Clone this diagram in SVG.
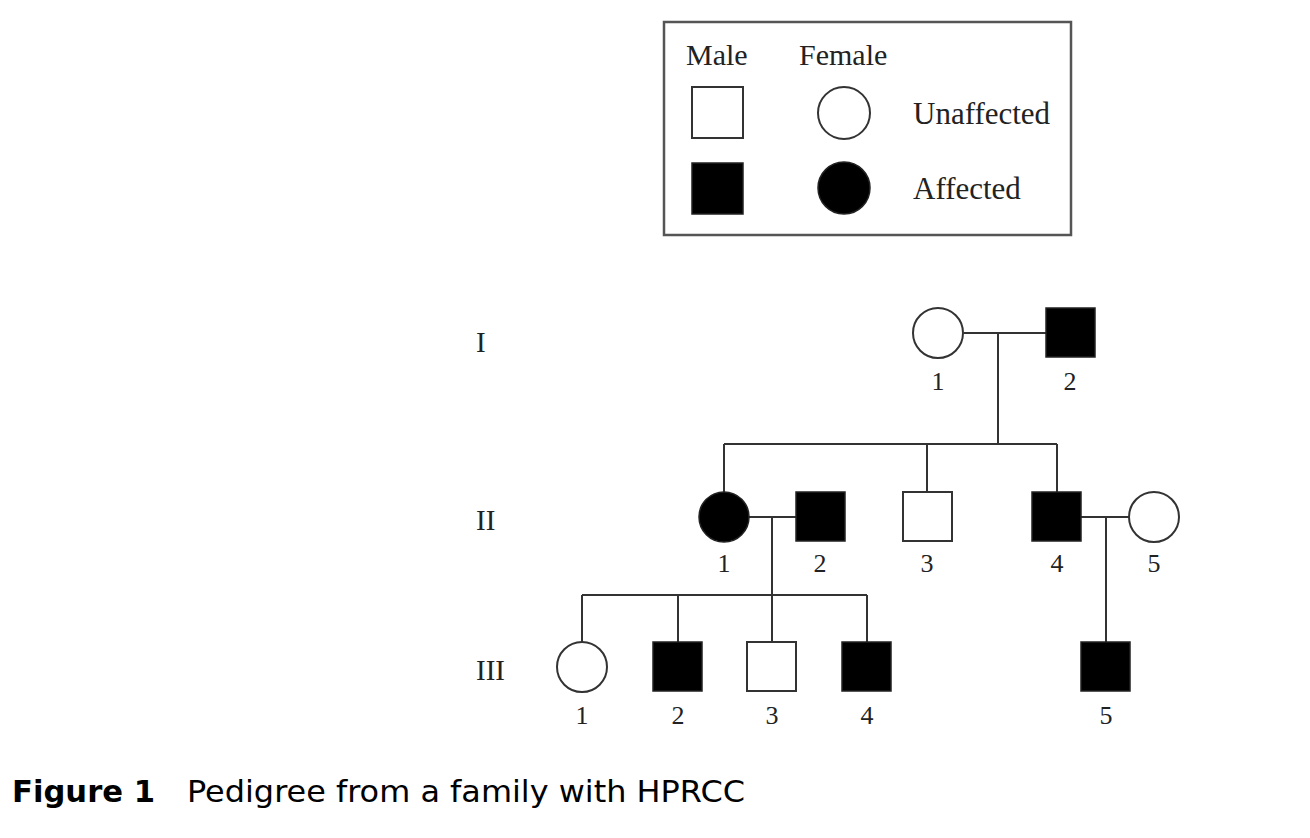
<svg xmlns="http://www.w3.org/2000/svg" width="1310" height="838" viewBox="0 0 1310 838">
<style>
.t{font-family:"Liberation Serif","Times New Roman",serif;font-size:29px;fill:#222}
.n{font-family:"Liberation Serif","Times New Roman",serif;font-size:26px;fill:#222;text-anchor:middle}
.u{fill:#fff;stroke:#333;stroke-width:2}
.a{fill:#000;stroke:#222;stroke-width:1.5}
.ln{stroke:#333;stroke-width:2;fill:none}
.cap{font-family:"DejaVu Sans",Verdana,sans-serif;font-size:30px;fill:#000}
</style>
<rect width="1310" height="838" fill="#fff"/>
<g id="legend">
<rect x="664" y="22" width="407" height="213" fill="#fff" stroke="#555" stroke-width="2.5"/>
<text class="t" x="686" y="65" style="font-size:30px">Male</text>
<text class="t" x="799" y="65" style="font-size:30px">Female</text>
<rect class="u" x="692" y="87" width="51" height="51"/>
<circle class="u" cx="844" cy="113" r="26"/>
<text class="t" x="913" y="124" style="font-size:31px">Unaffected</text>
<rect class="a" x="692" y="163" width="51" height="51"/>
<circle class="a" cx="844" cy="188" r="26"/>
<text class="t" x="913" y="199" style="font-size:31px">Affected</text>
</g>
<g id="gen-labels">
<text class="t" x="476" y="352">I</text>
<text class="t" x="476" y="530">II</text>
<text class="t" x="476" y="680">III</text>
</g>
<g id="connectors">
<path class="ln" d="M964 333H1046M998 333V444M724 444H1057M724 444V493M927 444V492M1057 444V492"/>
<path class="ln" d="M749 517H796M772 517V595M582 595H867M582 595V642M678 595V642M772 595V642M867 595V642"/>
<path class="ln" d="M1081 517H1129M1106 517V642"/>
</g>
<g id="I-1"><ellipse class="u" cx="938" cy="333" rx="25" ry="25"/><text class="n" x="938" y="390">1</text></g>
<g id="I-2"><rect class="a" x="1046" y="308" width="49" height="49"/><text class="n" x="1070" y="390">2</text></g>
<g id="II-1"><ellipse class="a" cx="724" cy="517" rx="25" ry="25"/><text class="n" x="724" y="572">1</text></g>
<g id="II-2"><rect class="a" x="796" y="492" width="49" height="49"/><text class="n" x="820" y="572">2</text></g>
<g id="II-3"><rect class="u" x="903" y="492" width="49" height="49"/><text class="n" x="927" y="572">3</text></g>
<g id="II-4"><rect class="a" x="1032" y="492" width="49" height="49"/><text class="n" x="1057" y="572">4</text></g>
<g id="II-5"><ellipse class="u" cx="1154" cy="517" rx="25" ry="25"/><text class="n" x="1154" y="572">5</text></g>
<g id="III-1"><ellipse class="u" cx="582" cy="667" rx="25" ry="25"/><text class="n" x="582" y="724">1</text></g>
<g id="III-2"><rect class="a" x="653" y="642" width="49" height="49"/><text class="n" x="678" y="724">2</text></g>
<g id="III-3"><rect class="u" x="747" y="642" width="49" height="49"/><text class="n" x="772" y="724">3</text></g>
<g id="III-4"><rect class="a" x="842" y="642" width="49" height="49"/><text class="n" x="867" y="724">4</text></g>
<g id="III-5"><rect class="a" x="1081" y="642" width="49" height="49"/><text class="n" x="1106" y="724">5</text></g>
<g id="caption">
<text class="cap" x="12" y="802" font-weight="bold" textLength="143" lengthAdjust="spacingAndGlyphs">Figure 1</text>
<text class="cap" x="187" y="802" textLength="558" lengthAdjust="spacingAndGlyphs">Pedigree from a family with HPRCC</text>
</g>
</svg>
